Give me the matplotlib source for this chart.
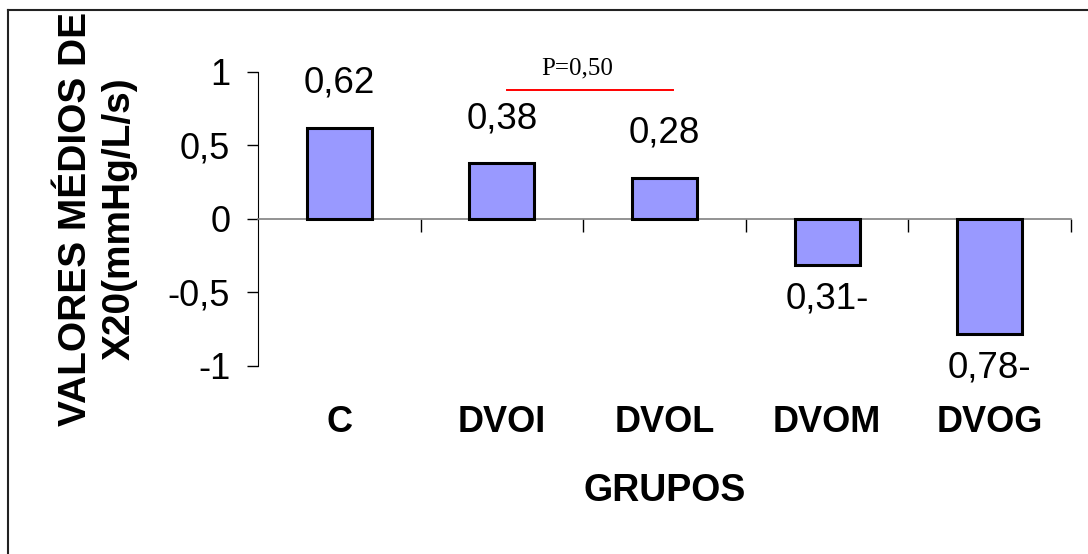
import matplotlib
matplotlib.use("Agg")
import matplotlib.pyplot as plt
from matplotlib.lines import Line2D

groups = ["C", "DVOI", "DVOL", "DVOM", "DVOG"]
values = [0.62, 0.38, 0.28, -0.31, -0.78]
value_labels = ["0,62", "0,38", "0,28", "0,31-", "0,78-"]
y_ticks = [-1, -0.5, 0, 0.5, 1]
y_tick_labels = ["-1", "-0,5", "0", "0,5", "1"]
p_text = "P=0,50"
p_span = (1.03, 2.05)
p_y = 0.878

plt.rcParams["font.family"] = ["Liberation Sans", "DejaVu Sans"]

fig = plt.figure(figsize=(10.88, 5.54), dpi=100)
ax = fig.add_axes([0.2371, 0.3394, 0.7473, 0.5307])

x = list(range(len(groups)))
ax.bar(x, values, width=0.4, color="#9999FF", edgecolor="black", linewidth=2.2, zorder=3)

ax.set_xlim(-0.5, len(groups) - 0.5)
ax.set_ylim(-1, 1)

# y axis
ax.set_yticks(y_ticks, y_tick_labels)
ax.tick_params(axis="y", direction="out", length=8, width=1, pad=12, labelsize=26)

# x axis line at zero with category boundary ticks
ax.spines["bottom"].set_position(("data", 0))
ax.spines["bottom"].set_color("#808080")
ax.spines["bottom"].set_linewidth(1.2)
ax.spines["top"].set_visible(False)
ax.spines["right"].set_visible(False)
ax.set_xticks([i + 0.5 for i in x])
ax.tick_params(axis="x", direction="out", length=9, width=1, color="black", labelbottom=False)

# category labels below plot area
sec = ax.secondary_xaxis(0.0)
sec.set_xticks(x, groups)
sec.spines["bottom"].set_visible(False)
sec.tick_params(axis="x", length=0, pad=28, labelsize=26)
for lbl in sec.get_xticklabels():
    lbl.set_fontweight("bold")

# value labels
for xi, v, lab in zip(x, values, value_labels):
    off = 32 if v >= 0 else -25
    ax.annotate(lab, (xi, v), xytext=(0, off), textcoords="offset points",
                ha="center", va="center", fontsize=26.5, annotation_clip=False)

# significance line
ax.plot(p_span, [p_y, p_y], color="red", linewidth=1.4, clip_on=False)
ax.text(sum(p_span) / 2 - 0.08, 1.027, p_text, ha="center", va="center",
        fontsize=18, family=["Liberation Serif", "DejaVu Serif"], clip_on=False)

ax.set_ylabel("VALORES MÉDIOS DE\nX20(mmHg/L/s)", fontsize=28, fontweight="bold",
              linespacing=1.28, va="center", ha="center")
ax.yaxis.set_label_coords(-0.197, 0.5)

ax.set_xlabel("GRUPOS", fontsize=27, fontweight="bold", va="center")
ax.xaxis.set_label_coords(0.5, -0.425)

# outer frame (left and top edges)
fig.add_artist(Line2D([8 / 1088, 8 / 1088], [0, 1 - 10 / 554], color="#222222", linewidth=1.5))
fig.add_artist(Line2D([8 / 1088, 1], [1 - 10 / 554, 1 - 10 / 554], color="#222222", linewidth=1.5))

fig.savefig("out.png", dpi=100)
plt.close(fig)
